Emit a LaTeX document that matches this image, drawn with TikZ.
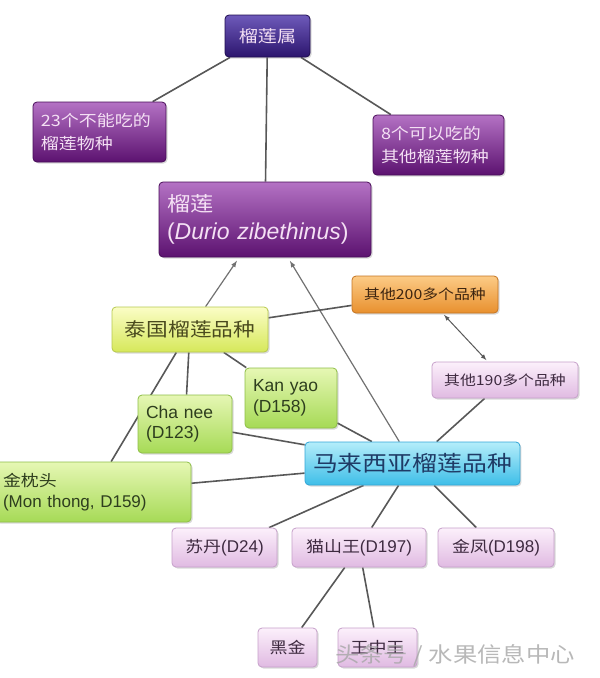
\documentclass[tikz,border=0pt]{standalone}
\usepackage{fontspec}
\setmainfont{Liberation Sans}
\newfontfamily\cjk[FakeStretch=1.15,Scale=0.92]{Noto Sans CJK SC}
\usepackage{tikz}
\usetikzlibrary{shadows}
\usetikzlibrary{backgrounds}
\definecolor{genustop}{HTML}{6E5ABA}
\definecolor{genusbot}{HTML}{2C156E}
\definecolor{genusdraw}{HTML}{1E0C4E}
\definecolor{purpletop}{HTML}{B472C4}
\definecolor{purplebot}{HTML}{5C1270}
\definecolor{purpledraw}{HTML}{480C58}
\definecolor{purpletext}{HTML}{F4E0F4}
\definecolor{orangetop}{HTML}{FCCB86}
\definecolor{orangebot}{HTML}{E8902E}
\definecolor{orangedraw}{HTML}{C47422}
\definecolor{orangetext}{HTML}{3C2410}
\definecolor{thaitop}{HTML}{FBFDC6}
\definecolor{thaibot}{HTML}{D6E85A}
\definecolor{thaidraw}{HTML}{B6C84E}
\definecolor{thaitext}{HTML}{4A4A1E}
\definecolor{greentop}{HTML}{E6F7B4}
\definecolor{greenbot}{HTML}{A6DA56}
\definecolor{greendraw}{HTML}{8EBE46}
\definecolor{greentext}{HTML}{2E3E1E}
\definecolor{malaytop}{HTML}{B4EDFA}
\definecolor{malaybot}{HTML}{3EBEE8}
\definecolor{malaydraw}{HTML}{34A6D6}
\definecolor{malaytext}{HTML}{1F3B66}
\definecolor{pinktop}{HTML}{FCF0FB}
\definecolor{pinkbot}{HTML}{E0BAE2}
\definecolor{pinkdraw}{HTML}{C6A0CA}
\definecolor{pinktext}{HTML}{3E2A40}
\definecolor{linkgray}{HTML}{585858}

\tikzset{
  box/.style={rectangle, rounded corners=4pt, line width=0.8pt, inner xsep=8pt, inner ysep=2pt,
    drop shadow={opacity=0.3, shadow xshift=1.5pt, shadow yshift=-1.5pt}},
  genusbox/.style={box, draw=genusdraw, top color=genustop, bottom color=genusbot, text=purpletext},
  purplebox/.style={box, draw=purpledraw, top color=purpletop, bottom color=purplebot, text=purpletext},
  orangebox/.style={box, draw=orangedraw, top color=orangetop, bottom color=orangebot, text=orangetext},
  thaibox/.style={box, draw=thaidraw, top color=thaitop, bottom color=thaibot, text=thaitext},
  greenbox/.style={box, draw=greendraw, top color=greentop, bottom color=greenbot, text=greentext},
  malaybox/.style={box, draw=malaydraw, top color=malaytop, bottom color=malaybot, text=malaytext},
  pinkbox/.style={box, draw=pinkdraw, top color=pinktop, bottom color=pinkbot, text=pinktext},
  link/.style={draw=linkgray, line width=1.6pt},
  toparent/.style={->, draw=linkgray!85, line width=1.2pt, shorten >=4pt},
}

\begin{document}
\begin{tikzpicture}[>=latex, x=1pt, y=-1pt]
  \useasboundingbox (0,0) rectangle (600,678);
  %genus and species
  \node at (267.5,36) (genus) [genusbox, minimum width=85pt, minimum height=42pt, font=\cjk\fontsize{18}{22}\selectfont] {榴莲属};
  \node at (99.5,132) (inedible) [purplebox, minimum height=60pt, text width=117pt, align=left, font=\cjk\fontsize{17}{23}\selectfont] {23个不能吃的\\榴莲物种};
  \node at (438.5,145) (edible) [purplebox, minimum height=60pt, text width=115pt, align=left, font=\cjk\fontsize{17}{23}\selectfont] {8个可以吃的\\其他榴莲物种};
  \node at (265,219.5) (durian) [purplebox, minimum height=75pt, text width=196pt, align=left, font=\fontsize{23}{28}\selectfont] {{\cjk\fontsize{22}{28}\selectfont 榴莲}\\(\textit{Durio zibethinus})};

  %variety groups
  \node at (190,329.5) (thai) [thaibox, minimum width=156pt, minimum height=45pt, font=\cjk\fontsize{20.5}{24}\selectfont] {泰国榴莲品种};
  \node at (412.5,463.5) (malay) [malaybox, minimum width=201pt, minimum height=43pt, font=\cjk\fontsize{23.5}{27}\selectfont] {马来西亚榴莲品种};
  \node at (425,294.5) (other200) [orangebox, minimum width=146pt, minimum height=37pt, font=\cjk\fontsize{15}{18}\selectfont] {其他200多个品种};
  \node at (505,380) (other190) [pinkbox, minimum width=146pt, minimum height=36pt, font=\cjk\fontsize{15}{18}\selectfont] {其他190多个品种};

  %thai varieties
  \node at (291,398) (kanyao) [greenbox, minimum height=60pt, text width=76pt, align=left, font=\fontsize{17.5}{20.5}\selectfont] {Kan yao\\(D158)};
  \node at (185,424) (chanee) [greenbox, minimum height=58pt, text width=78pt, align=left, font=\fontsize{17.5}{20.5}\selectfont] {Cha nee\\(D123)};
  \node at (93,492) (monthong) [greenbox, minimum height=60pt, text width=180pt, align=left, font=\fontsize{17}{20.5}\selectfont] {{\cjk 金枕头}\\(Mon thong, D159)};

  %malaysian varieties
  \node at (224.5,547.5) (sudan) [pinkbox, minimum width=105pt, minimum height=39pt, font=\fontsize{17}{20}\selectfont] {{\cjk 苏丹}(D24)};
  \node at (359,547.5) (musang) [pinkbox, minimum width=134pt, minimum height=39pt, font=\fontsize{17}{20}\selectfont] {{\cjk 猫山王}(D197)};
  \node at (496,547.5) (jinfeng) [pinkbox, minimum width=116pt, minimum height=39pt, font=\fontsize{17}{20}\selectfont] {{\cjk 金凤}(D198)};
  \node at (287.5,647.5) (heijin) [pinkbox, minimum width=59pt, minimum height=39pt, font=\cjk\fontsize{17}{20}\selectfont] {黑金};
  \node at (377.5,647.5) (wzw) [pinkbox, minimum width=79pt, minimum height=39pt, font=\cjk\fontsize{17}{20}\selectfont] {王中王};

  %links
  \begin{pgfonlayer}{background}
  \draw [link] (genus) -- (inedible);
  \draw [link] (genus) -- (edible);
  \draw [link] (genus) -- (durian);
  \draw [toparent] (thai) -- (durian);
  \draw [toparent] (malay) -- (durian);
  \draw [link] (thai) -- (other200);
  \draw [<->, draw=linkgray, line width=1pt, shorten <=2pt, shorten >=2pt] (other200) -- (other190);
  \draw [link] (other190) -- (malay);
  \draw [link] (thai) -- (monthong);
  \draw [link] (thai) -- (chanee);
  \draw [link] (thai) -- (kanyao);
  \draw [link] (kanyao) -- (malay);
  \draw [link] (chanee) -- (malay);
  \draw [link] (monthong) -- (malay);
  \draw [link] (malay) -- (sudan);
  \draw [link] (malay) -- (musang);
  \draw [link] (malay) -- (jinfeng);
  \draw [link] (musang) -- (heijin);
  \draw [link] (musang) -- (wzw);
  \end{pgfonlayer}

  %watermark
  \node at (455,655) (mark) [text=black!35, opacity=0.8, font=\cjk\fontsize{23}{26}\selectfont] {头条号 / 水果信息中心};
\end{tikzpicture}
\end{document}
